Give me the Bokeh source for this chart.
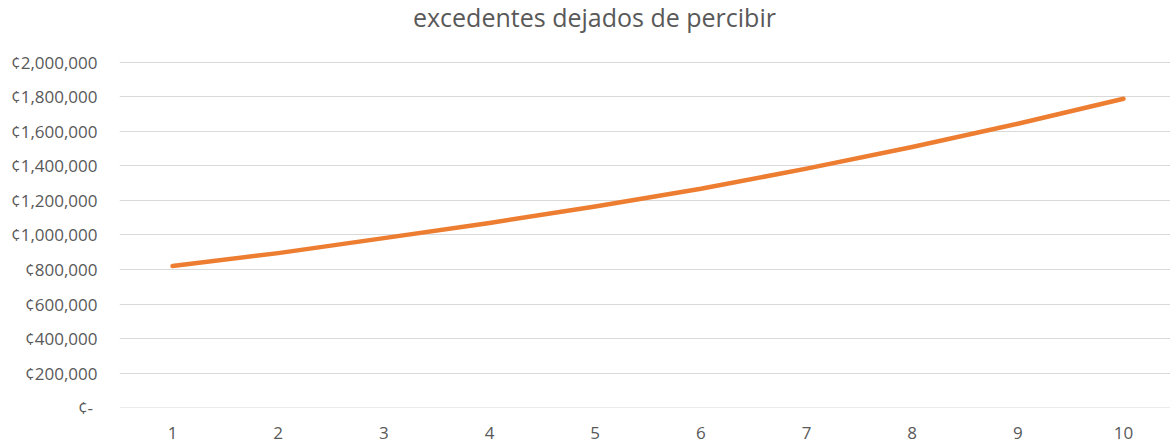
from bokeh.plotting import figure
from bokeh.models import Range1d, FixedTicker, CustomJSTickFormatter, Span
from bokeh.core.properties import value
from bokeh.embed import file_html
from bokeh.resources import INLINE

years = [1, 2, 3, 4, 5, 6, 7, 8, 9, 10]
excedentes = [820000, 895000, 982000, 1070000, 1165000, 1268000, 1385000, 1510000, 1645000, 1790000]
y_ticks = [0, 200000, 400000, 600000, 800000, 1000000, 1200000, 1400000, 1600000, 1800000, 2000000]
title_text = "excedentes dejados de percibir"

# frame extends to the top of the page so the title can sit inside it
p = figure(width=1170, height=446, output_backend="svg", toolbar_location=None,
           x_range=Range1d(0.498, 10.445), y_range=Range1d(0, 2359420),
           min_border_left=119, min_border_right=0, min_border_top=0, min_border_bottom=39)

p.text(x=[4.993], y=[2264000], text=[title_text], text_align="center",
       text_baseline="middle", text_font=value("Open Sans"), text_font_size="25px",
       text_color="#595959")

p.line(years, excedentes, line_color="#ED7D31", line_width=4.5,
       line_join="round", line_cap="round")

p.outline_line_color = None
p.xgrid.grid_line_color = None
p.ygrid.grid_line_color = "#d9d9d9"
p.ygrid.grid_line_width = 1
p.add_layout(Span(location=y_ticks[0], dimension="width", line_color="#d9d9d9", line_width=1))

p.yaxis.ticker = FixedTicker(ticks=y_ticks)
p.yaxis.formatter = CustomJSTickFormatter(code="""
    if (tick == 0) { return "\u00a2- "; }
    return "\u00a2" + Math.round(tick).toString().replace(/\\B(?=(\\d{3})+(?!\\d))/g, ",");
""")
p.xaxis.ticker = FixedTicker(ticks=years)

for ax in (p.xaxis[0], p.yaxis[0]):
    ax.axis_line_color = None
    ax.major_tick_line_color = None
    ax.minor_tick_line_color = None
    ax.major_tick_out = 0
    ax.major_tick_in = 0
    ax.major_label_text_font = "Open Sans"
    ax.major_label_text_font_size = "17px"
    ax.major_label_text_color = "#595959"

p.yaxis.major_label_standoff = 22
p.xaxis.major_label_standoff = 19

open("out.html", "w").write(file_html(p, INLINE))
